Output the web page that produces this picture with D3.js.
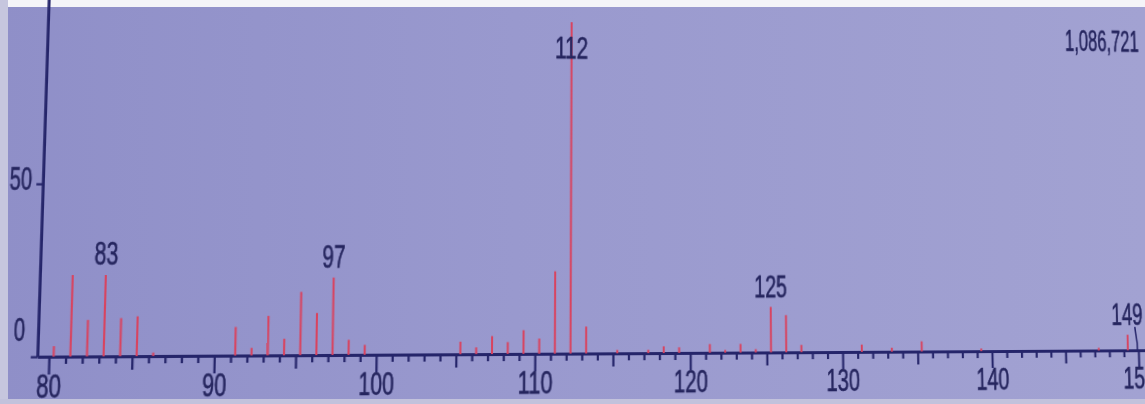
<!DOCTYPE html>
<html>
<head>
<meta charset="utf-8">
<script src="https://cdn.jsdelivr.net/npm/d3@7"></script>
<style>
  html, body { margin: 0; padding: 0; width: 1145px; height: 404px; overflow: hidden; background: #9a9acf; }
  #backdrop { position: absolute; left: 0; top: 0; }
  #plane { position: absolute; left: 0; top: 0; width: 1145px; height: 404px; transform-origin: 0 0; }
  #plane svg { overflow: visible; }
  text { font-family: "Liberation Sans Narrow", "Liberation Sans", Arial, sans-serif;
         fill: #25255e; stroke: #25255e; stroke-width: 0.6px; }
</style>
</head>
<body>
<svg id="backdrop" width="1145" height="404"></svg>
<div id="plane"><svg id="chart" width="1145" height="404"></svg></div>
<script>
// ---- spectrum data: m/z and relative abundance (% of base peak) ----
const masses = [80, 81, 82, 83, 84, 85, 86,
                91, 92, 93, 94, 95, 96, 97, 98, 99,
                105, 106, 107, 108, 109, 110, 111, 112, 113,
                115, 117, 118, 119, 121, 122, 123, 124, 125, 126, 127,
                131, 133, 135, 139, 147, 149];
const abundances = [3, 23.5, 10.5, 23.5, 11, 11.5, 1,
                    8.3, 2.2, 11.5, 4.8, 18.5, 12.3, 22.7, 4.4, 2.9,
                    3.7, 2, 5.3, 3.5, 7, 4.5, 24.5, 100, 8,
                    1, 1, 2, 1.7, 2.6, 0.8, 2.6, 1, 13.7, 11.2, 2.2,
                    2.2, 1.2, 3.1, 0.8, 0.8, 4.8];
const labelledMasses = [83, 97, 112, 125, 149];
const xMajorTicks = [80, 90, 100, 110, 120, 130, 140, 150];
const yTickValues = [0, 50];
const basePeakCounts = "1,086,721";

const peaks = masses.map((m, i) => ({ mz: m, pct: abundances[i] }));

// ---- flat chart plane ----
const chart = d3.select("#chart");
const x = d3.scaleLinear().domain([79.3, 151]).range([39.1, 1153.5]);
const y = d3.scaleLinear().domain([0, 100]).range([354, 22]);
const stemShift = x(80.28) - x(80);          // centroid stems sit just right of the nominal tick

const axisColor = "#25256a";
const stemColor = "#d8435f";

// x axis: minor tick every unit, mid tick every 5, labelled tick every 10
const xAxis = d3.axisBottom(x)
  .tickValues(d3.range(80, 151, 1))
  .tickSizeOuter(0)
  .tickFormat(d => xMajorTicks.includes(d) ? String(d) : "");
const gx = chart.append("g").attr("transform", `translate(0,${y(0)})`).call(xAxis);
gx.select(".domain").attr("stroke", axisColor).attr("stroke-width", 2.8);
gx.selectAll(".tick line")
  .attr("stroke", axisColor).attr("stroke-width", 2.2)
  .attr("y2", d => d % 10 === 0 ? 17 : d % 5 === 0 ? 13 : 7);
gx.selectAll(".tick text")
  .attr("y", 17).attr("dy", "0.71em")
  .style("font-size", "31px")
  .attr("textLength", d => xMajorTicks.includes(d) ? String(d).length * 11.5 : null)
  .attr("lengthAdjust", "spacingAndGlyphs");

// y axis
const yAxisScale = d3.scaleLinear().domain([0, 106]).range([y(0), y(106)]);
const yAxis = d3.axisLeft(yAxisScale).tickValues(yTickValues).tickSize(6).tickSizeOuter(0).tickPadding(4);
const gy = chart.append("g").attr("transform", `translate(${x(79.3)},0)`).call(yAxis);
gy.select(".domain").attr("stroke", axisColor).attr("stroke-width", 2.8);
gy.selectAll(".tick line").attr("stroke", axisColor).attr("stroke-width", 2.2);
gy.selectAll(".tick text")
  .style("font-size", "32px")
  .attr("textLength", d => String(d).length * 10.5)
  .attr("lengthAdjust", "spacingAndGlyphs")
  .attr("dy", d => d === 0 ? "-0.5em" : "0.18em")
  .attr("x", d => d === 0 ? -12 : -10);

// stems
chart.append("g").selectAll("line").data(peaks).join("line")
  .attr("x1", d => x(d.mz) + stemShift).attr("x2", d => x(d.mz) + stemShift)
  .attr("y1", y(0)).attr("y2", d => y(d.pct))
  .attr("stroke", stemColor).attr("stroke-width", 2);

// peak labels
const labelled = peaks.filter(d => labelledMasses.includes(d.mz));
chart.append("g").selectAll("text").data(labelled).join("text")
  .attr("x", d => x(d.mz) + stemShift)
  .attr("y", d => Math.max(y(d.pct) - 10, y(89)))
  .attr("text-anchor", "middle")
  .style("font-size", "32px")
  .attr("textLength", d => String(d.mz).length * 11.2)
  .attr("lengthAdjust", "spacingAndGlyphs")
  .text(d => d.mz);

// leader from the last label down to the axis end
const last = labelled[labelled.length - 1];
chart.append("path")
  .attr("d", d3.line()([
    [x(last.mz) + stemShift + 8, y(last.pct) - 8],
    [x(last.mz + 1) - 1, y(last.pct * 0.45)],
    [x(last.mz + 1) - 1, y(0)]
  ]))
  .attr("fill", "none").attr("stroke", axisColor).attr("stroke-width", 1.6);

// base peak intensity, top right
chart.append("text")
  .attr("x", x(150.6)).attr("y", y(93.5))
  .attr("text-anchor", "end")
  .style("font-size", "32px")
  .attr("textLength", 80).attr("lengthAdjust", "spacingAndGlyphs")
  .text(basePeakCounts);

// ---- projective warp of the chart plane (display viewed at an angle) ----
const controlPoints = [
  [[x(80), y(0)], [50.7, 352]],
  [[x(90), y(0)], [212.7, 355]],
  [[x(100), y(0)], [374.3, 356.5]],
  [[x(110), y(0)], [535, 357.3]],
  [[x(120), y(0)], [690, 355.5]],
  [[x(130), y(0)], [843.3, 354]],
  [[x(140), y(0)], [992, 349.5]],
  [[x(150), y(0)], [1137, 346.5]],
  [[x(79.3), y(50)], [43, 182]],
  [[x(81) + stemShift, y(23.5)], [74, 273.3]],
  [[x(83) + stemShift, y(23.5)], [106, 273]],
  [[x(97) + stemShift, y(22.7)], [331.5, 280]],
  [[x(111) + stemShift, y(24.5)], [553.7, 275.7]],
  [[x(112) + stemShift, y(100)], [571.5, 22]],
  [[x(125) + stemShift, y(13.7)], [773.3, 309]],
  [[x(126) + stemShift, y(11.2)], [788.3, 317.3]],
  [[x(149) + stemShift, y(4.8)], [1127, 330]]
];

function fitHomography(pairs) {
  const s = 1000, A = [], b = [];
  pairs.forEach(([[px, py], [qx, qy]]) => {
    const u = px / s, v = py / s, U = qx / s, V = qy / s;
    A.push([u, v, 1, 0, 0, 0, -u * U, -v * U]); b.push(U);
    A.push([0, 0, 0, u, v, 1, -u * V, -v * V]); b.push(V);
  });
  const N = Array.from({ length: 8 }, () => new Array(8).fill(0));
  const r = new Array(8).fill(0);
  A.forEach((row, k) => {
    for (let i = 0; i < 8; i++) {
      r[i] += row[i] * b[k];
      for (let j = 0; j < 8; j++) N[i][j] += row[i] * row[j];
    }
  });
  for (let c = 0; c < 8; c++) {
    let p = c;
    for (let i = c + 1; i < 8; i++) if (Math.abs(N[i][c]) > Math.abs(N[p][c])) p = i;
    [N[c], N[p]] = [N[p], N[c]]; [r[c], r[p]] = [r[p], r[c]];
    for (let i = c + 1; i < 8; i++) {
      const f = N[i][c] / N[c][c];
      for (let j = c; j < 8; j++) N[i][j] -= f * N[c][j];
      r[i] -= f * r[c];
    }
  }
  const h = new Array(8);
  for (let i = 7; i >= 0; i--) {
    let sum = r[i];
    for (let j = i + 1; j < 8; j++) sum -= N[i][j] * h[j];
    h[i] = sum / N[i][i];
  }
  return [h[0], h[1], h[2] * s, h[3], h[4], h[5] * s, h[6] / s, h[7] / s];
}

const H = fitHomography(controlPoints);
d3.select("#plane").style("transform",
  `matrix3d(${H[0]},${H[3]},0,${H[6]},${H[1]},${H[4]},0,${H[7]},0,0,1,0,${H[2]},${H[5]},0,1)`);

// ---- backdrop: lavender display surface ----
const bg = d3.select("#backdrop");
const defs = bg.append("defs");
const lg = defs.append("linearGradient").attr("id", "surface").attr("x1", 0).attr("x2", 1).attr("y1", 0).attr("y2", 0);
[["0%", "#8f8fc8"], ["45%", "#9999ce"], ["100%", "#a2a2d2"]].forEach(([o, c]) =>
  lg.append("stop").attr("offset", o).attr("stop-color", c));
bg.append("rect").attr("width", 1145).attr("height", 404).attr("fill", "url(#surface)");
bg.append("rect").attr("x", 0).attr("y", 0).attr("width", 1145).attr("height", 7).attr("fill", "#f4f4f8");
bg.append("rect").attr("x", 0).attr("y", 0).attr("width", 8).attr("height", 404).attr("fill", "#c6c6de");
bg.append("rect").attr("x", 0).attr("y", 399).attr("width", 1145).attr("height", 5).attr("fill", "#c2c2dc");
</script>
</body>
</html>
